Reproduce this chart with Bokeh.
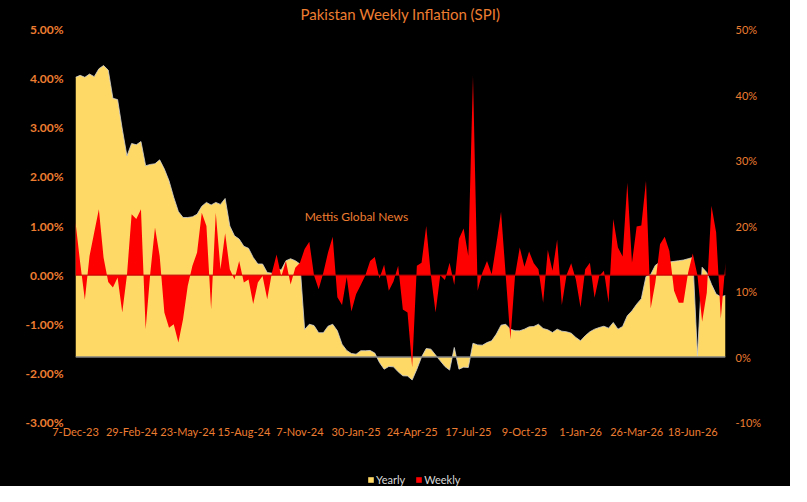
from bokeh.plotting import figure
from bokeh.layouts import column
from bokeh.models import (Range1d, LinearAxis, FixedTicker, PrintfTickFormatter,
                          Legend, LegendItem, Label)
from bokeh.embed import file_html
from bokeh.resources import INLINE
import numpy as np
import pandas as pd

# weekly SPI readings, starting 7-Dec-23
dates = pd.date_range("2023-12-07", periods=140, freq="7D")

# year-on-year change, % (right axis)
yearly = [
    42.7, 43.0, 42.7, 43.2, 42.8, 44.0, 44.5, 43.8, 39.5, 39.3,
    34.8, 30.7, 32.6, 32.4, 32.9, 29.2, 29.4, 29.5, 30.1, 28.7,
    26.9, 24.4, 22.2, 21.3, 21.3, 21.4, 21.8, 23.0, 23.6, 23.2,
    23.6, 23.3, 24.2, 20.0, 18.5, 18.0, 16.9, 16.6, 15.2, 14.2,
    14.2, 12.9, 12.8, 13.4, 13.3, 14.7, 15.0, 14.7, 14.2, 4.2,
    5.0, 4.8, 3.7, 3.7, 4.7, 5.0, 4.0, 1.95, 1.0, 0.53,
    0.43, 0.95, 0.95, 1.0, 0.6, -0.84, -1.86, -1.45, -1.5, -2.26,
    -2.87, -2.9, -3.5, -1.86, 0.0, 1.3, 1.2, 0.3, -0.58, -1.45,
    -2.0, 1.45, -1.86, -1.55, -1.6, 2.1, 1.85, 1.8, 2.2, 2.47,
    3.5, 4.86, 5.0, 4.25, 4.0, 4.0, 4.25, 4.6, 4.66, 5.0,
    4.35, 4.15, 3.74, 4.25, 3.94, 3.85, 3.64, 2.98, 2.47, 3.24,
    3.85, 4.25, 4.5, 4.7, 4.4, 5.27, 4.25, 4.66, 6.3, 7.05,
    8.06, 8.9, 12.3, 12.6, 14.0, 14.5, 14.4, 14.5, 14.6, 14.7,
    14.8, 15.0, 15.2, 0.2, 13.7, 12.9, 11.1, 9.6, 9.2, 9.4,
]

# week-on-week change, % (left axis)
weekly = [
    1.08, 0.25, -0.5, 0.39, 0.87, 1.34, 0.36, -0.14, -0.25, -0.05,
    -0.76, 0.0, 1.24, 1.14, 1.34, -1.1, 0.05, 0.97, 0.39, -0.76,
    -1.07, -1.0, -1.37, -0.9, -0.22, 0.19, 0.46, 1.27, 1.0, -0.7,
    1.27, 0.12, 0.85, 0.12, -0.09, 0.29, -0.15, -0.09, -0.59, -0.15,
    -0.02, -0.49, 0.05, 0.42, -0.03, 0.29, -0.19, 0.15, 0.25, 0.53,
    0.68, 0.0, -0.29, 0.05, 0.46, 0.78, -0.45, -0.61, -0.04, -0.74,
    -0.39, -0.2, 0.0, 0.29, 0.37, -0.07, 0.21, -0.32, -0.13, 0.19,
    -0.7, -0.76, -1.88, 0.19, 0.25, 1.0, 0.0, -0.76, 0.0, -0.1,
    0.25, -0.2, 0.74, 0.95, 0.39, 4.06, -0.32, 0.05, 0.29, 0.02,
    0.63, 1.29, 0.0, -1.31, 0.0, 0.56, 0.17, 0.48, 0.24, 0.12,
    -0.56, 0.51, 0.09, 0.72, -0.61, 0.0, 0.24, -0.09, -0.66, 0.12,
    0.25, -0.46, -0.02, 0.09, -0.56, 1.14, 0.56, 0.38, 1.88, 0.25,
    0.99, 1.01, 1.92, -0.68, -0.15, 0.63, 0.78, 0.49, -0.32, -0.56,
    -0.56, 0.05, 0.44, 0.0, -0.95, -0.36, 1.41, 0.87, -0.89, 0.25,
]

tick_labels = ["7-Dec-23", "29-Feb-24", "23-May-24", "15-Aug-24", "7-Nov-24",
               "30-Jan-25", "24-Apr-25", "17-Jul-25", "9-Oct-25", "1-Jan-26",
               "26-Mar-26", "18-Jun-26"]
left_ticks = [-3, -2, -1, 0, 1, 2, 3, 4, 5]
right_ticks = [-10, 0, 10, 20, 30, 40, 50]

ORANGE = "#ED7D31"
YELLOW = "#FFD966"
RED = "#FF0000"
FONT = "Lato"
BLACK = {"background-color": "black"}

x = np.arange(len(dates))
tick_pos = [int(dates.get_loc(t)) for t in pd.to_datetime(tick_labels, format="%d-%b-%y")]

p = figure(width=790, height=461, output_backend="svg", toolbar_location=None,
           x_range=Range1d(0, len(x) - 1), y_range=Range1d(left_ticks[0], left_ticks[-1]),
           background_fill_color="black", border_fill_color="black", styles=BLACK,
           min_border_left=75, min_border_right=65, min_border_top=36, min_border_bottom=32)
p.extra_y_ranges = {"yearly": Range1d(right_ticks[0], right_ticks[-1])}
p.outline_line_color = None
p.grid.visible = False

p.title.text = "Pakistan Weekly Inflation (SPI)"
p.title.align = "center"
p.title.offset = -4
p.title.standoff = 14
p.title.text_color = ORANGE
p.title.text_font = FONT
p.title.text_font_size = "15px"
p.title.text_font_style = "normal"

p.varea(x=x, y1=0, y2=yearly, y_range_name="yearly", fill_color=YELLOW)
p.line(x, yearly, y_range_name="yearly", line_color="#D0D0D0", line_width=0.8)
p.line([0, len(x) - 1], [0, 0], y_range_name="yearly", line_color="#808080", line_width=1.5)

p.varea(x=x, y1=0, y2=weekly, fill_color=RED)
p.line([0, len(x) - 1], [0, 0], line_color="#C00000", line_width=1)

# axes
xa = p.xaxis[0]
xa.ticker = FixedTicker(ticks=tick_pos)
xa.major_label_overrides = dict(zip(tick_pos, tick_labels))
xa.axis_line_color = None
xa.major_tick_line_color = None
xa.major_tick_out = 0
xa.minor_tick_line_color = None
xa.major_label_standoff = 2
xa.major_label_text_color = ORANGE
xa.major_label_text_font = FONT
xa.major_label_text_font_size = "11px"

ya = p.yaxis[0]
ya.ticker = FixedTicker(ticks=left_ticks)
ya.formatter = PrintfTickFormatter(format="%.2f%%")
ya.axis_line_color = None
ya.major_tick_line_color = None
ya.major_tick_out = 0
ya.minor_tick_line_color = None
ya.major_label_standoff = 12
ya.major_label_text_color = ORANGE
ya.major_label_text_font = FONT
ya.major_label_text_font_size = "12px"
ya.major_label_text_font_style = "bold"

ra = LinearAxis(y_range_name="yearly", ticker=FixedTicker(ticks=right_ticks),
                formatter=PrintfTickFormatter(format="%d%%"))
ra.axis_line_color = None
ra.major_tick_line_color = None
ra.major_tick_out = 0
ra.minor_tick_line_color = None
ra.major_label_standoff = 10
ra.major_label_text_color = ORANGE
ra.major_label_text_font = FONT
ra.major_label_text_font_size = "11px"
p.add_layout(ra, "right")

p.add_layout(Label(x=49, y=1.19, text="Mettis Global News", text_color=ORANGE,
                   text_font=FONT, text_font_size="12px", text_baseline="middle"))

# legend strip underneath the chart; its areas sit outside the visible range,
# only their legend swatches show
leg = figure(width=790, height=32, output_backend="svg", toolbar_location=None,
             x_axis_type=None, y_axis_type=None, min_border=0,
             x_range=Range1d(0, len(x) - 1), y_range=Range1d(-200, -100),
             background_fill_color="black", border_fill_color="black", styles=BLACK)
leg.outline_line_color = None
leg.grid.visible = False
ly = leg.varea(x=x, y1=0, y2=yearly, fill_color=YELLOW)
lw = leg.varea(x=x, y1=0, y2=weekly, fill_color=RED)
legend = Legend(items=[LegendItem(label="Yearly", renderers=[ly]),
                       LegendItem(label="Weekly", renderers=[lw])],
                orientation="horizontal", location=(292, 0),
                background_fill_alpha=0, border_line_alpha=0,
                label_text_color="#D9D9D9", label_text_font=FONT,
                label_text_font_size="11px", glyph_width=7, glyph_height=7,
                label_height=11, label_standoff=2, spacing=10, padding=0, margin=0)
leg.add_layout(legend)

page = column(p, leg, styles={"background-color": "black", "margin-top": "-7px"})
open("out.html", "w").write(file_html(page, INLINE))
